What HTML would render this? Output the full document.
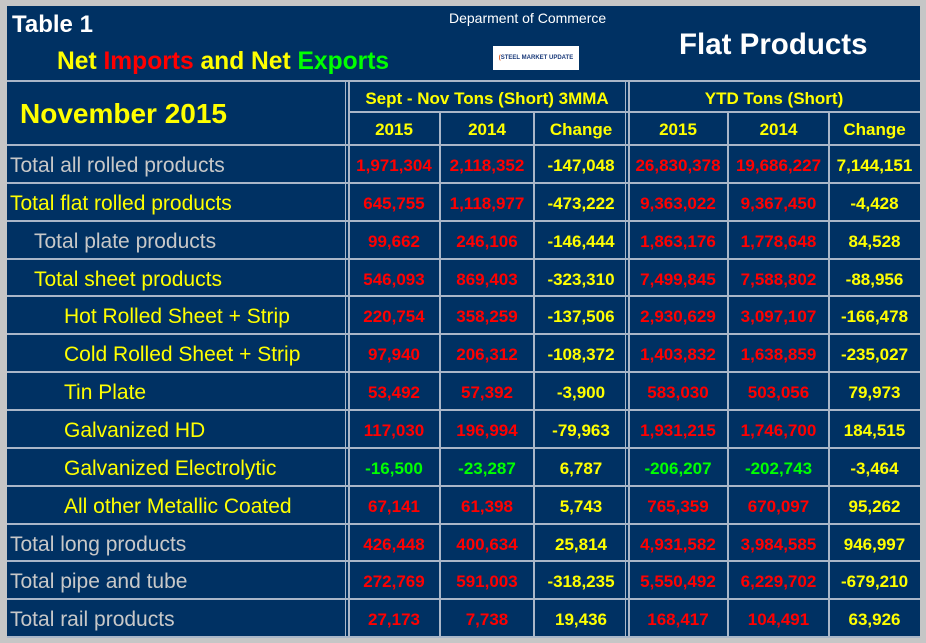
<!DOCTYPE html>
<html><head><meta charset="utf-8"><style>
body{margin:0;width:926px;height:643px;background:#c6c6c6;position:relative;overflow:hidden;font-family:"Liberation Sans",Arial,sans-serif}
#panel{position:absolute;left:7px;top:6px;width:913px;height:630px;background:#003163;}
.a{position:absolute;white-space:nowrap}
.h{position:absolute;background:#a9b6c8;height:2px}
.v{position:absolute;background:#a9b6c8;width:2px}
.num{position:absolute;font-weight:bold;font-size:17px;text-align:center;line-height:38px}
.lab{position:absolute;font-size:21px;line-height:38px}
</style></head><body>
<div id="panel"></div>
<div class="a" style="left:12px;top:11px;color:#fff;font-weight:bold;font-size:24px">Table 1</div>
<div class="a" style="left:57px;top:48px;font-weight:bold;font-size:24.6px;color:#ffff00">Net <span style="color:#ff0000">Imports</span> and Net <span style="color:#00ff00">Exports</span></div>
<div class="a" style="left:449px;top:10px;color:#fff;font-size:14px">Deparment of Commerce</div>
<div class="a" style="left:493px;top:46px;width:86px;height:24px;background:#fff;font-size:6px;font-weight:bold;color:#1a3a7a;line-height:24px;text-align:center"><span style="color:#e05010">(</span>STEEL MARKET UPDATE</div>
<div class="a" style="left:679px;top:28px;color:#fff;font-weight:bold;font-size:29.5px">Flat Products</div>
<div class="a" style="left:20px;top:98px;color:#ffff00;font-weight:bold;font-size:28px">November 2015</div>
<div class="a" style="left:348px;width:278px;text-align:center;top:89px;color:#ffff00;font-weight:bold;font-size:17px">Sept - Nov Tons (Short) 3MMA</div>
<div class="a" style="left:628px;width:292px;text-align:center;top:89px;color:#ffff00;font-weight:bold;font-size:17px">YTD Tons (Short)</div>
<div id="grid"></div>
<script>
const labels=["Total all rolled products","Total flat rolled products","Total plate products","Total sheet products","Hot Rolled Sheet + Strip","Cold Rolled Sheet + Strip","Tin Plate","Galvanized HD","Galvanized Electrolytic","All other Metallic Coated","Total long products","Total pipe and tube","Total rail products"];
const indents=[0,0,1,1,2,2,2,2,2,2,0,0,0];
const labelGrey=[1,0,1,0,0,0,0,0,0,0,1,1,1];
const m2015=["1,971,304","645,755","99,662","546,093","220,754","97,940","53,492","117,030","-16,500","67,141","426,448","272,769","27,173"];
const m2014=["2,118,352","1,118,977","246,106","869,403","358,259","206,312","57,392","196,994","-23,287","61,398","400,634","591,003","7,738"];
const mChg=["-147,048","-473,222","-146,444","-323,310","-137,506","-108,372","-3,900","-79,963","6,787","5,743","25,814","-318,235","19,436"];
const y2015=["26,830,378","9,363,022","1,863,176","7,499,845","2,930,629","1,403,832","583,030","1,931,215","-206,207","765,359","4,931,582","5,550,492","168,417"];
const y2014=["19,686,227","9,367,450","1,778,648","7,588,802","3,097,107","1,638,859","503,056","1,746,700","-202,743","670,097","3,984,585","6,229,702","104,491"];
const yChg=["7,144,151","-4,428","84,528","-88,956","-166,478","-235,027","79,973","184,515","-3,464","95,262","946,997","-679,210","63,926"];
const colX=[348,440,534,628,728,829,920];
const top0=145, rh=37.85;
const g=document.getElementById('grid');
function add(cls,style,text){const d=document.createElement('div');d.className=cls;d.style.cssText=style;if(text!==undefined)d.textContent=text;g.appendChild(d);return d;}
let l=add('h','left:7px;top:80px;width:913px');


l=add('h','left:348px;top:111px;width:572px');


for(let r=0;r<=labels.length;r++){
  const y=Math.round(top0+r*rh)-1;
  const ln=add('h','left:7px;top:'+y+'px;width:913px');
  
  
}
[[345,80],[348,80],[439,111],[533,111],[625,80],[628,80],[727,111],[828,111]].forEach(([x,t])=>{
  const ln=add('v','left:'+x+'px;top:'+t+'px;height:'+(636-t)+'px;width:'+(x==345||x==625?1:2)+'px');
  
  
});
const yrs=["2015","2014","Change","2015","2014","Change"];
yrs.forEach((t,i)=>{
  const d=add('num','left:'+colX[i]+'px;width:'+(colX[i+1]-colX[i])+'px;top:113px;line-height:34px;color:#ffff00',t);
  
  
});
function col(v){return v.startsWith('-')?'#00ff00':'#ff0000';}
for(let r=0;r<labels.length;r++){
  const y=Math.round(top0+r*rh)+2;
  const lb=add('lab','left:'+(10+[0,24,54][indents[r]])+'px;top:'+y+'px;color:'+(labelGrey[r]?'#c8c8c8':'#ffff00'),labels[r]);
  
  
  const vals=[m2015[r],m2014[r],mChg[r],y2015[r],y2014[r],yChg[r]];
  vals.forEach((v,i)=>{
    const c=(i==2||i==5)?'#ffff00':col(v);
    const d=add('num','left:'+colX[i]+'px;width:'+(colX[i+1]-colX[i])+'px;top:'+y+'px;color:'+c,v);
    
    
  });
}
</script>
</body></html>
